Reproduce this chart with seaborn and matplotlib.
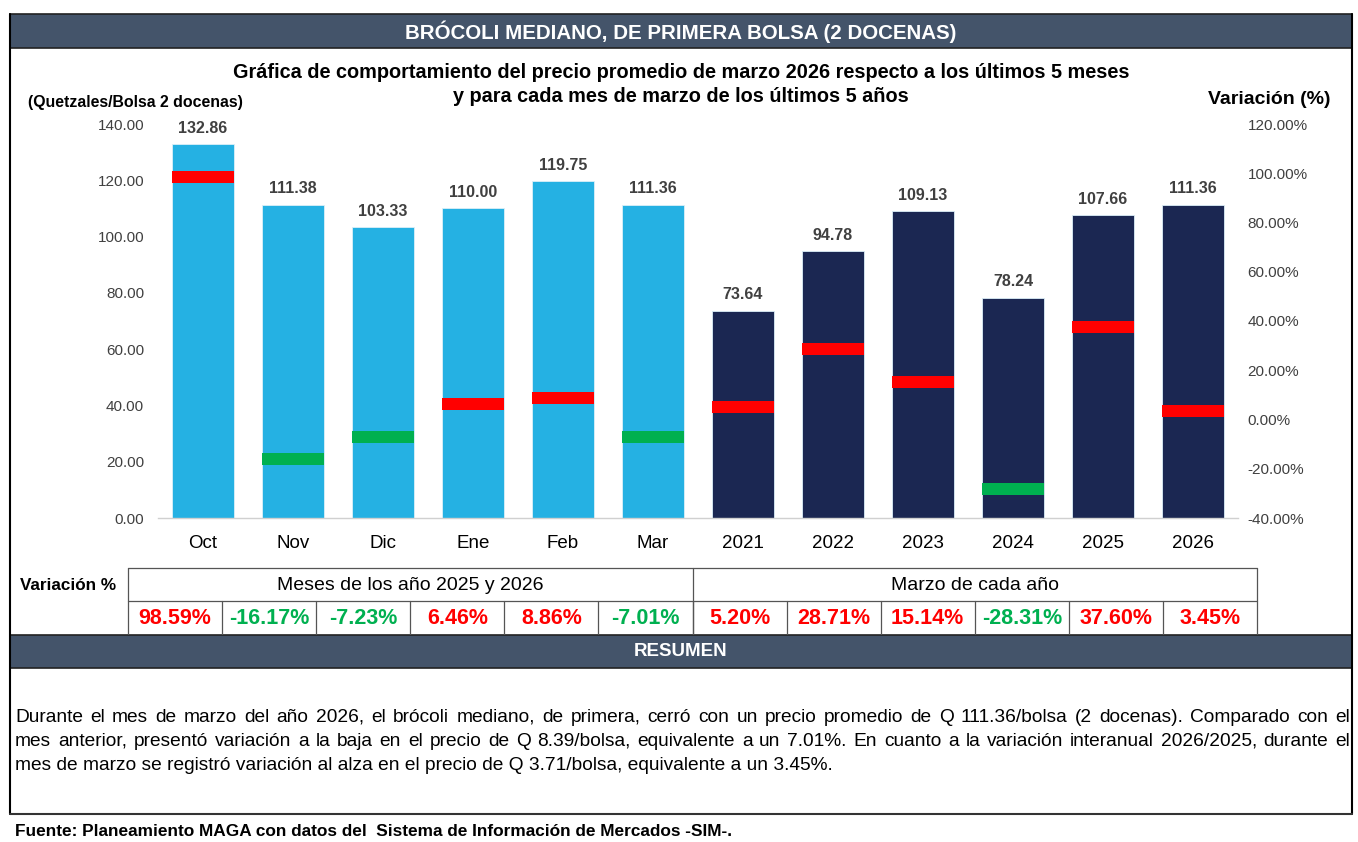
import matplotlib
matplotlib.use("Agg")
import matplotlib.pyplot as plt
from matplotlib.patches import Rectangle
from matplotlib.lines import Line2D
import numpy as np
import pandas as pd
import seaborn as sns

# ── data ─────────────────────────────────────────────────────────
categories = ["Oct", "Nov", "Dic", "Ene", "Feb", "Mar",
              "2021", "2022", "2023", "2024", "2025", "2026"]
groups = ["meses"] * 6 + ["marzo"] * 6
prices = [132.86, 111.38, 103.33, 110.00, 119.75, 111.36,
          73.64, 94.78, 109.13, 78.24, 107.66, 111.36]
variation = [98.59, -16.17, -7.23, 6.46, 8.86, -7.01,
             5.20, 28.71, 15.14, -28.31, 37.60, 3.45]
left_ticks = [0, 20, 40, 60, 80, 100, 120, 140]
right_ticks = [-40, -20, 0, 20, 40, 60, 80, 100, 120]

title = "BRÓCOLI MEDIANO, DE PRIMERA BOLSA (2 DOCENAS)"
subtitle = ("Gráfica de comportamiento del precio promedio de marzo 2026 respecto a los últimos 5 meses\n"
            "y para cada mes de marzo de los últimos 5 años")
summary_lines = [
    "Durante el mes de marzo del año 2026, el brócoli mediano, de primera, cerró con un precio promedio de Q 111.36/bolsa (2 docenas). Comparado con el",
    "mes anterior, presentó variación a la baja en el precio de Q 8.39/bolsa, equivalente a un 7.01%. En cuanto a la variación interanual 2026/2025, durante el",
    "mes de marzo se registró variación al alza en el precio de Q 3.71/bolsa, equivalente a un 3.45%.",
]
source = "Fuente: Planeamiento MAGA con datos del  Sistema de Información de Mercados -SIM-."

LIGHT = "#25B1E3"
DARK = "#1B2752"
RED = "#FF0000"
GREEN = "#00B050"
SLATE = "#44546A"
GREY_TXT = "#404040"

sns.set_theme(style="white")
plt.rcParams["font.family"] = ["Liberation Sans", "DejaVu Sans"]
plt.rcParams["text.color"] = "black"

W, H = 1358, 842
fig = plt.figure(figsize=(W / 100, H / 100), dpi=100)


def fx(x):
    return x / W


def fy(y):
    return 1 - y / H


def box(x0, y0, x1, y1, **kw):
    fig.add_artist(Rectangle((fx(x0), fy(y1)), fx(x1) - fx(x0), fy(y0) - fy(y1),
                             transform=fig.transFigure, **kw))


def hline(x0, x1, y, **kw):
    fig.add_artist(Line2D([fx(x0), fx(x1)], [fy(y), fy(y)], transform=fig.transFigure, **kw))


def vline(x, y0, y1, **kw):
    fig.add_artist(Line2D([fx(x), fx(x)], [fy(y0), fy(y1)], transform=fig.transFigure, **kw))


def text(x, y, s, **kw):
    fig.text(fx(x), fy(y), s, **kw)


# ── chart ────────────────────────────────────────────────────────
ax = fig.add_axes([fx(158), fy(518), fx(1238) - fx(158), fy(124) - fy(518)])
df = pd.DataFrame({"cat": categories, "price": prices, "grp": groups})
sns.barplot(data=df, x="cat", y="price", hue="grp", order=categories,
            palette={"meses": LIGHT, "marzo": DARK}, dodge=False, width=0.69,
            saturation=1, legend=False, edgecolor="#DCEFF8", linewidth=0.6, ax=ax)

ax.set_ylim(0, 140)
ax.set_xlim(-0.5, len(categories) - 0.5)
ax.set_yticks(left_ticks)
ax.set_yticklabels([f"{v:.2f}" for v in left_ticks], fontsize=11, color=GREY_TXT)
ax.set_xticks(range(len(categories)))
ax.set_xticklabels(categories, fontsize=13.5, color="black")
ax.tick_params(axis="y", length=0, pad=10)
ax.tick_params(axis="x", length=0, pad=12)
ax.set_xlabel("")
ax.set_ylabel("")
for side in ["left", "right", "top"]:
    ax.spines[side].set_visible(False)
ax.spines["bottom"].set_color("#D0D0D0")
ax.spines["bottom"].set_linewidth(1.0)

for i, p in enumerate(prices):
    ax.annotate(f"{p:.2f}", (i, p), xytext=(0, 6), textcoords="offset points",
                ha="center", va="bottom", fontsize=11.5, fontweight="bold", color=GREY_TXT)

# variation markers on the secondary axis
ax2 = ax.twinx()
ax2.set_ylim(-40, 120)
mark_h = 4.9
mark_cols = [RED if v >= 0 else GREEN for v in variation]
ax2.bar(np.arange(len(categories)), [mark_h] * len(variation),
        bottom=[v - mark_h / 2 for v in variation], width=0.69, color=mark_cols,
        linewidth=0)
ax2.set_yticks(right_ticks)
ax2.set_yticklabels([f"{v:.2f}%" for v in right_ticks], fontsize=11, color=GREY_TXT)
ax2.tick_params(axis="y", length=0, pad=7)
for side in ["left", "right", "top", "bottom"]:
    ax2.spines[side].set_visible(False)
ax2.grid(False)

# ── frame, headers ───────────────────────────────────────────────
box(10, 14, 1352, 48, facecolor=SLATE, edgecolor="#222222", linewidth=1.2)
text(681, 32, title, ha="center", va="center", color="white", fontsize=14.8, fontweight="bold")
vline(10, 14, 814, color="black", linewidth=1.5)
vline(1352, 14, 814, color="black", linewidth=1.5)
hline(10, 1352, 814, color="#333333", linewidth=1.5)

text(681, 72, subtitle.split("\n")[0], ha="center", va="center", fontsize=14.3,
     fontweight="bold")
text(681, 97, subtitle.split("\n")[1], ha="center", va="center", fontsize=14.3,
     fontweight="bold")
text(28, 102, "(Quetzales/Bolsa 2 docenas)", ha="left", va="center", fontsize=11.4,
     fontweight="bold")
text(1331, 100, "Variación (%)", ha="right", va="center", fontsize=14, fontweight="bold")

# ── table of variations ──────────────────────────────────────────
t_left, t_right = 128, 1257
t_top, t_mid, t_bot = 568, 601, 634
col_w = (t_right - t_left) / len(categories)
line_kw = dict(color="#555555", linewidth=0.9)
hline(t_left, t_right, t_top, **line_kw)
hline(t_left, t_right, t_mid, **line_kw)
vline(t_left, t_top, t_bot, **line_kw)
vline(t_right, t_top, t_bot, **line_kw)
vline(t_left + 6 * col_w, t_top, t_bot, **line_kw)
for k in range(1, len(categories)):
    vline(t_left + k * col_w, t_mid, t_bot, **line_kw)

text(68, 585, "Variación %", ha="center", va="center", fontsize=12.3, fontweight="bold")
text(t_left + 3 * col_w, 585, "Meses de los año 2025 y 2026", ha="center", va="center",
     fontsize=14)
text(t_left + 9 * col_w, 585, "Marzo de cada año", ha="center", va="center", fontsize=14)
for k, v in enumerate(variation):
    text(t_left + (k + 0.5) * col_w, 618, f"{v:.2f}%", ha="center", va="center",
         fontsize=15.5, fontweight="bold", color=RED if v >= 0 else GREEN)

# ── resumen ──────────────────────────────────────────────────────
box(10, 635, 1352, 668, facecolor=SLATE, edgecolor="#222222", linewidth=1.2)
text(681, 651, "RESUMEN", ha="center", va="center", color="white", fontsize=13.5,
     fontweight="bold")

renderer = fig.canvas.get_renderer()
para_left, para_right = 15, 1350
para_fs = 13.8
for li, line in enumerate(summary_lines):
    y = 717 + li * 24.5
    if li == len(summary_lines) - 1:
        text(para_left, y, line, ha="left", va="center", fontsize=para_fs)
        continue
    # justified line: place words one by one
    words = line.split(" ")
    widths = []
    for w in words:
        t = fig.text(0, 0, w, fontsize=para_fs)
        widths.append(t.get_window_extent(renderer).width)
        t.remove()
    gap = (para_right - para_left - sum(widths)) / (len(words) - 1)
    x = para_left
    for w, wd in zip(words, widths):
        text(x, y, w, ha="left", va="center", fontsize=para_fs)
        x += wd + gap

text(15, 831, source, ha="left", va="center", fontsize=12.4, fontweight="bold")

fig.savefig("out.png", dpi=100)
plt.close(fig)
